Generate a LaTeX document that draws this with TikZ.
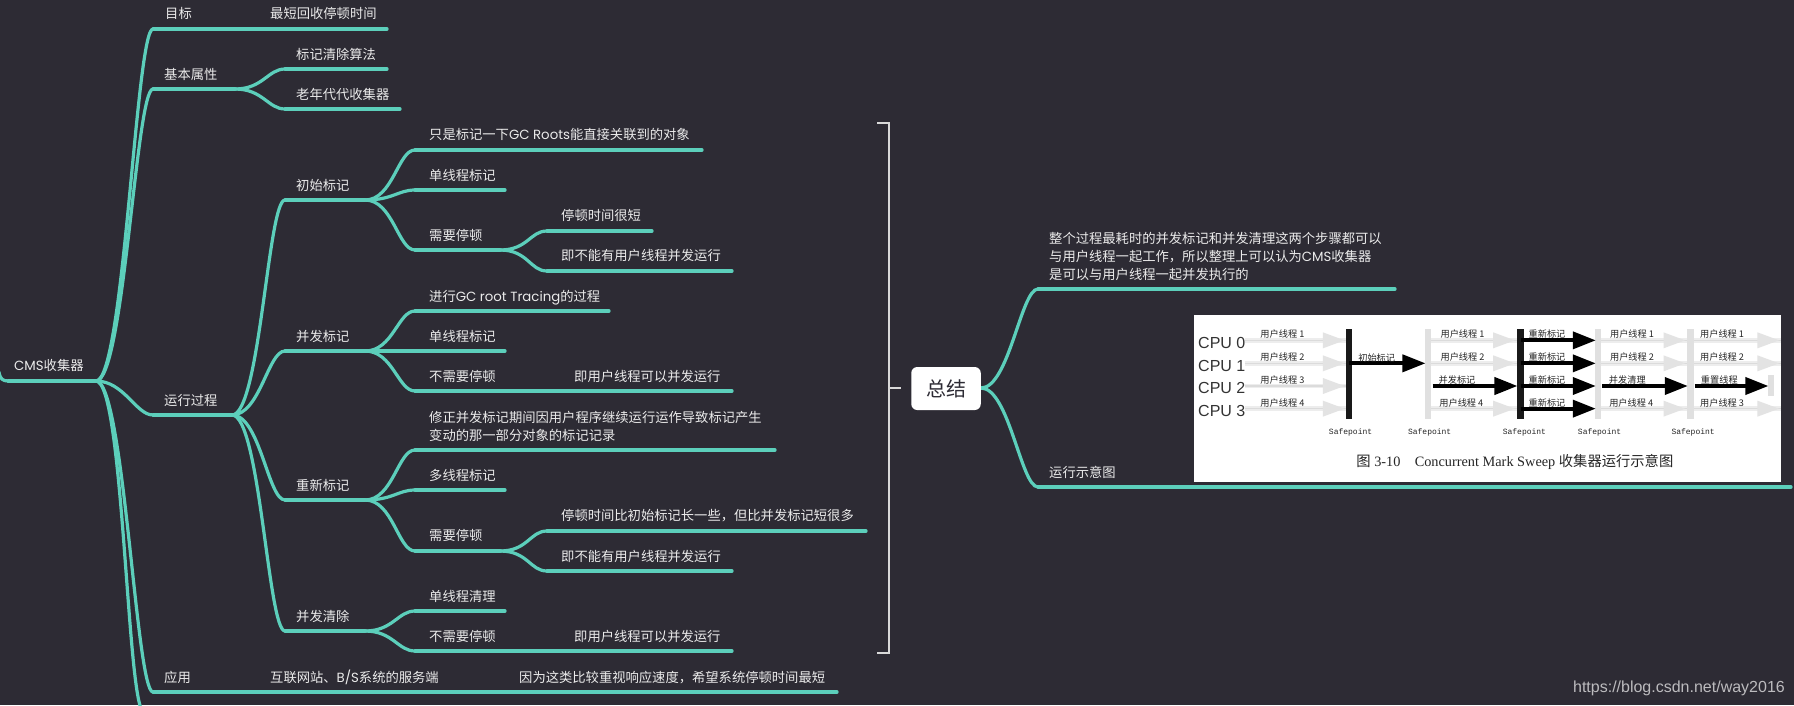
\documentclass[tikz,border=0pt]{standalone}
\usepackage{fontspec}
\setmainfont{Noto Sans CJK SC}
\newfontfamily\latfont{Poppins}
\newfontfamily\armfont{Liberation Sans}
\newfontfamily\typefont{Liberation Mono}
\newfontfamily\capfont{Liberation Serif}
\newcommand{\lat}[1]{{\latfont #1}}
\usetikzlibrary{arrows.meta}
\definecolor{boardbg}{RGB}{45,43,52}
\definecolor{branchcol}{RGB}{92,207,187}
\tikzset{
  branch/.style={draw=branchcol, line width=3.2pt, line cap=round},
  lbl/.style={anchor=south west, inner sep=0pt, text=white!92!black, align=left, text depth=3pt,
    font=\fontsize{13.3}{18}\selectfont},
  blackarrow/.style={line width=3.8pt, -{Triangle[length=23pt,width=17pt]}},
  tinytext/.style={inner sep=0pt, anchor=west, text=black!85, font=\fontsize{9.2}{10}\selectfont},
}
\begin{document}
\begin{tikzpicture}[x=1pt,y=-1pt]
  \useasboundingbox (0,0) rectangle (1794,705);
  \clip (0,0) rectangle (1794,705);
  \fill[boardbg] (0,0) rectangle (1794,705);

  % straight part under every topic: name/start/end/height
  \foreach \name/\xa/\xb/\y in {
    root/8/96/381, goal/153/387/29, attr/153/235/89, algo/285/387/69, oldgen/285/400/109,
    run/153/232/415, init/285/365/200, initroots/415/702/150, initsingle/415/505/190,
    initstop/415/500/250, initshort/547/652/231, initnouser/547/732/271,
    conc/285/365/351, conctrace/415/609/311, concsingle/415/505/351, concgo/415/732/391,
    remark/285/365/500, remarkfix/415/775/450, remarkmulti/415/505/490,
    remarkstop/415/500/551, remarklong/547/866/531, remarknouser/547/732/571,
    sweep/285/365/631, sweepsingle/415/505/611, sweepgo/415/732/651,
    apply/153/837/692, summary/980/981/388, sumtext/1038/1395/289, sumfig/1038/1791/487}{
    \coordinate (\name s) at (\xa,\y);
    \coordinate (\name e) at (\xb,\y);
    \draw[branch] (\name s) -- (\name e);
  }
  \coordinate (rootin) at (-1,372);
  \coordinate (rootout) at (144,712);

  % forks
  \foreach \from/\to in {
    root/goal, root/attr, root/run, root/apply, attr/algo, attr/oldgen,
    run/init, run/conc, run/remark, run/sweep,
    init/initroots, init/initsingle, init/initstop, initstop/initshort, initstop/initnouser,
    conc/conctrace, conc/concsingle, conc/concgo,
    remark/remarkfix, remark/remarkmulti, remark/remarkstop, remarkstop/remarklong, remarkstop/remarknouser,
    sweep/sweepsingle, sweep/sweepgo, summary/sumtext, summary/sumfig}{
    \draw[branch] (\from e) .. controls +(28,0) and +(-17,0) .. (\to s);
  }
  \draw[branch] (roote) .. controls +(28,0) and +(-17,0) .. (rootout);
  \draw[branch] (rootin) .. controls +(1,7) and +(-5,0) .. (roots);

  % texts: name/left/bottom/text
  \foreach \name/\x/\y/\txt in {
    roott/14/374/{\lat{CMS}收集器}, goalt/165/22/目标, goalx/270/22/最短回收停顿时间,
    attrt/164/83/基本属性, algot/296/63/标记清除算法, oldgent/296/103/老年代代收集器,
    runt/164/409/运行过程, initt/296/194/初始标记,
    initrootst/429/143/{只是标记一下\lat{GC Roots}能直接关联到的对象},
    initsinglet/429/184/单线程标记, initstopt/429/244/需要停顿,
    initshortt/561/224/停顿时间很短, initnousert/561/264/即不能有用户线程并发运行,
    conct/296/345/并发标记, conctracet/429/305/{进行\lat{GC root Tracing}的过程},
    concsinglet/429/345/单线程标记, concgot/429/385/不需要停顿, concgox/574/385/即用户线程可以并发运行,
    remarkt/296/494/重新标记,
    remarkfixt/429/444/{修正并发标记期间因用户程序继续运行运作导致标记产生\\变动的那一部分对象的标记记录},
    remarkmultit/429/484/多线程标记, remarkstopt/429/544/需要停顿,
    remarklongt/561/524/{停顿时间比初始标记长一些，但比并发标记短很多},
    remarknousert/561/565/即不能有用户线程并发运行,
    sweept/296/625/并发清除, sweepsinglet/429/605/单线程清理, sweepgot/429/645/不需要停顿,
    sweepgox/574/645/即用户线程可以并发运行,
    applyt/164/686/应用, applyx/270/686/{互联网站、\lat{B/S}系统的服务端},
    applyy/519/686/{因为这类比较重视响应速度，希望系统停顿时间最短},
    sumtextt/1049/283/{整个过程最耗时的并发标记和并发清理这两个步骤都可以\\与用户线程一起工作，所以整理上可以认为\lat{CMS}收集器\\是可以与用户线程一起并发执行的},
    sumfigt/1049/481/运行示意图}{
    \node[lbl] (\name) at (\x,\y) {\txt};
  }

  % bracket and summary box
  \coordinate (brtop) at (877,123);
  \coordinate (brbot) at (877,653);
  \coordinate (brmid) at (889,388);
  \coordinate (brtick) at (901,388);
  \draw[white!85!black, line width=2pt] (brtop) -- (889,123) -- (889,653) -- (brbot);
  \draw[white!85!black, line width=2pt] (brmid) -- (brtick);
  \node[fill=white, rounded corners=6pt, minimum width=69.5pt, minimum height=43pt, inner sep=0pt,
    text=boardbg, font=\fontsize{20}{22}\selectfont] (sumbox) at (946,388.5) {总结};

  % the figure
  \begin{scope}[shift={(1180,300)},x=0.3915pt,y=-0.3333pt]
    \fill[white] (37,44) rectangle (1535,545);
    \clip (37,44) rectangle (1535,545);
    \foreach \xa/\xb/\rows in {165/425/{121,190,258,326}, 640/860/{121,190,326}, 1075/1295/{121,190,326}, 1310/1535/{121,190,326}}{
      \foreach \yy in \rows {
        \draw[black!7, line width=4.5pt] (\xa,\yy) -- (\xb,\yy);
        \draw[black!14, line width=1.2pt] (\xa,\yy) -- (\xb,\yy);
        \fill[black!11] (\xb-60,\yy-24) -- (\xb-5,\yy) -- (\xb-60,\yy+24) -- cycle;
      }
    }
    \foreach \xx/\col in {432/black!90, 634/black!12, 870/black!90, 1068/black!12, 1304/black!12}{
      \fill[\col] (\xx-8,88) rectangle (\xx+8,358);
    }
    \fill[black!12] (1503,225) rectangle (1517,288);
    \draw[blackarrow] (432,190) -- (627,190);
    \draw[blackarrow] (645,258) -- (862,258);
    \foreach \yy in {121,190,258,326}{
      \draw[blackarrow] (870,\yy) -- (1062,\yy);
    }
    \draw[blackarrow] (1078,258) -- (1297,258);
    \draw[blackarrow] (1315,258) -- (1503,258);
    \foreach \yy/\lab in {128/0, 197/1, 265/2, 332/3}{
      \node[inner sep=0pt, anchor=west, text=black!80, font=\armfont\fontsize{16}{18}\selectfont] at (46,\yy) {CPU \lab};
    }
    \foreach \xx/\yy/\lab in {205/103/1, 205/172/2, 205/240/3, 205/310/4, 665/103/1, 665/172/2, 662/310/4,
      1098/103/1, 1098/172/2, 1096/310/4, 1328/103/1, 1328/172/2, 1328/310/3}{
      \node[tinytext] at (\xx,\yy) {用户线程 \lab};
    }
    \foreach \xx/\yy/\txt in {455/173/初始标记, 660/240/并发标记, 890/103/重新标记, 890/172/重新标记,
      890/240/重新标记, 890/310/重新标记, 1095/240/并发清理, 1330/240/重置线程}{
      \node[tinytext] at (\xx,\yy) {\txt};
    }
    \foreach \xx in {380,582,824,1016,1255}{
      \node[inner sep=0pt, anchor=west, text=black!85, font=\typefont\fontsize{8}{9}\selectfont] at (\xx,398) {Safepoint};
    }
    \node[inner sep=0pt, anchor=west, text=black!85, font=\capfont\fontsize{14.3}{16}\selectfont] at (450,487)
      {{\rmfamily 图} 3-10\quad Concurrent Mark Sweep {\rmfamily 收集器运行示意图}};
  \end{scope}

  \node[inner sep=0pt, anchor=east, text=white!68!boardbg, font=\armfont\fontsize{16}{18}\selectfont] (mark) at (1785,688) {https://blog.csdn.net/way2016};
\end{tikzpicture}
\end{document}
